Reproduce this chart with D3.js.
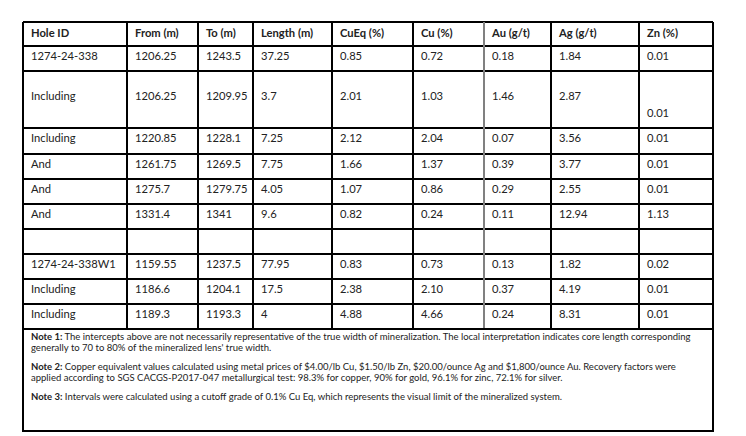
<!DOCTYPE html>
<meta charset="utf-8">
<style type="text/css">
	body { margin: 0; background: #fff; }
	svg { display: block; }
	.cell-text { font-family: Lato, "Open Sans", sans-serif; font-size: 11.2px; fill: #222; }
	.head-text { font-weight: bold; }
	.note-text { font-family: Lato, "Open Sans", sans-serif; font-size: 9.5px; fill: #222; }
	.note-label { font-weight: bold; }
	.grid { stroke: #000; stroke-width: 1.2px; shape-rendering: crispEdges; }
	.grid.soft { stroke: #808080; }
</style>
<body></body>
<script src="https://d3js.org/d3.v7.min.js"></script>
<script>

	// table content
	var headers = ["Hole ID", "From (m)", "To (m)", "Length (m)", "CuEq (%)", "Cu (%)", "Au (g/t)", "Ag (g/t)", "Zn (%)"];
	var holeIds = ["1274-24-338", "Including", "Including", "And", "And", "And", "", "1274-24-338W1", "Including", "Including"];
	var fromM   = ["1206.25", "1206.25", "1220.85", "1261.75", "1275.7", "1331.4", "", "1159.55", "1186.6", "1189.3"];
	var toM     = ["1243.5", "1209.95", "1228.1", "1269.5", "1279.75", "1341", "", "1237.5", "1204.1", "1193.3"];
	var lengthM = ["37.25", "3.7", "7.25", "7.75", "4.05", "9.6", "", "77.95", "17.5", "4"];
	var cuEq    = ["0.85", "2.01", "2.12", "1.66", "1.07", "0.82", "", "0.83", "2.38", "4.88"];
	var cu      = ["0.72", "1.03", "2.04", "1.37", "0.86", "0.24", "", "0.73", "2.10", "4.66"];
	var au      = ["0.18", "1.46", "0.07", "0.39", "0.29", "0.11", "", "0.13", "0.37", "0.24"];
	var ag      = ["1.84", "2.87", "3.56", "3.77", "2.55", "12.94", "", "1.82", "4.19", "8.31"];
	var zn      = ["0.01", "0.01", "0.01", "0.01", "0.01", "1.13", "", "0.02", "0.01", "0.01"];

	var notes = [
		{ label: "Note 1:", lines: [
			" The intercepts above are not necessarily representative of the true width of mineralization. The local interpretation indicates core length corresponding",
			"generally to 70 to 80% of the mineralized lens' true width."] },
		{ label: "Note 2:", lines: [
			" Copper equivalent values calculated using metal prices of $4.00/lb Cu, $1.50/lb Zn, $20.00/ounce Ag and $1,800/ounce Au. Recovery factors were",
			"applied according to SGS CACGS-P2017-047 metallurgical test: 98.3% for copper, 90% for gold, 96.1% for zinc, 72.1% for silver."] },
		{ label: "Note 3:", lines: [
			" Intervals were calculated using a cutoff grade of 0.1% Cu Eq, which represents the visual limit of the mineralized system."] }
	];

	// layout
	var width = 746, height = 436;
	var colEdges = [23, 127, 198, 253, 332, 413, 484, 551, 639, 713];
	var tableTop = 22, headH = 24;
	var rowH = [25, 57, 26, 25, 25, 25, 25, 25, 25, 25];
	var notesBottom = 431;

	var columns = [holeIds, fromM, toM, lengthM, cuEq, cu, au, ag, zn];

	var rowTops = [tableTop + headH];
	rowH.forEach(function(h, i) { rowTops.push(rowTops[i] + h); });
	var notesTop = rowTops[rowTops.length - 1];

	var svg = d3.select("body").append("svg")
		.attr("width", width)
		.attr("height", height);

	// grid lines
	var grid = svg.append("g");

	var hLines = [tableTop].concat(rowTops);
	grid.selectAll(".hline")
		.data(hLines)
		.enter()
		.append("line")
		.attr("class", "grid")
		.attr("x1", colEdges[0]).attr("x2", colEdges[colEdges.length - 1])
		.attr("y1", function(d) { return d; })
		.attr("y2", function(d) { return d; });

	grid.selectAll(".vline")
		.data(colEdges)
		.enter()
		.append("line")
		.attr("class", function(d, i) { return i == 6 ? "grid soft" : "grid"; })
		.attr("x1", function(d) { return d; })
		.attr("x2", function(d) { return d; })
		.attr("y1", tableTop)
		.attr("y2", notesTop);

	// notes box
	grid.append("rect")
		.attr("class", "grid")
		.attr("fill", "none")
		.attr("x", colEdges[0])
		.attr("y", notesTop)
		.attr("width", colEdges[colEdges.length - 1] - colEdges[0])
		.attr("height", notesBottom - notesTop);

	// header
	svg.selectAll(".head-text")
		.data(headers)
		.enter()
		.append("text")
		.attr("class", "cell-text head-text")
		.attr("x", function(d, i) { return colEdges[i] + 8; })
		.attr("y", tableTop + 15)
		.text(function(d) { return d; });

	// body cells
	columns.forEach(function(col, c) {
		svg.selectAll(".col" + c)
			.data(col)
			.enter()
			.append("text")
			.attr("class", "cell-text col" + c)
			.attr("x", colEdges[c] + 8)
			.attr("y", function(d, r) {
				if (r == 1) return rowTops[r] + (c == 8 ? 46 : 29);
				return rowTops[r] + 14;
			})
			.text(function(d) { return d; });
	});

	// notes
	var noteY = [notesTop + 11, notesTop + 41, notesTop + 71];
	var notesG = svg.append("g");
	notes.forEach(function(n, i) {
		n.lines.forEach(function(line, j) {
			var t = notesG.append("text")
				.attr("class", "note-text")
				.attr("x", 31)
				.attr("y", noteY[i] + j * 10.5);
			if (j == 0) {
				t.append("tspan").attr("class", "note-label").text(n.label);
			}
			t.append("tspan").text(line);
		});
	});

</script>
